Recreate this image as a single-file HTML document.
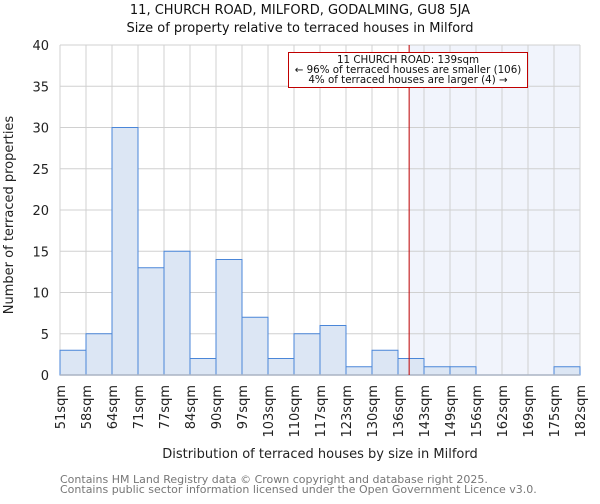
<!DOCTYPE html>
<html><head><meta charset="utf-8"><style>
body{margin:0;background:#fff;font-family:"DejaVu Sans","Liberation Sans",sans-serif;}
</style></head><body>
<svg id="c" width="600" height="500" xmlns="http://www.w3.org/2000/svg" font-family="DejaVu Sans, Liberation Sans, sans-serif"></svg>
<script>
const edges=["51sqm","58sqm","64sqm","71sqm","77sqm","84sqm","90sqm","97sqm","103sqm","110sqm","117sqm","123sqm","130sqm","136sqm","143sqm","149sqm","156sqm","162sqm","169sqm","175sqm","182sqm"];
const edgeVals=[51,58,64,71,77,84,90,97,103,110,117,123,130,136,143,149,156,162,169,175,182];
const counts=[3,5,30,13,15,2,14,7,2,5,6,1,3,2,1,1,0,0,0,1];
const yTicks=[0,5,10,15,20,25,30,35,40];
const marker=139;
const X0=60,X1=580,Y0=375,Y1=45,YMAX=40;
const bw=(X1-X0)/counts.length;
const sx=i=>X0+i*bw;
const sy=v=>Y0-(v/YMAX)*(Y0-Y1);
function sval(v){for(let i=0;i<edgeVals.length-1;i++){if(v<=edgeVals[i+1])return sx(i)+bw*(v-edgeVals[i])/(edgeVals[i+1]-edgeVals[i]);}return X1;}
const svg=document.getElementById('c');const NS='http://www.w3.org/2000/svg';
function el(t,a,txt){const e=document.createElementNS(NS,t);for(const k in a)e.setAttribute(k,a[k]);if(txt!==undefined)e.textContent=txt;svg.appendChild(e);return e;}
const mx=sval(marker);
let e=el('rect',{x:mx,y:Y1,width:X1-mx,height:Y0-Y1,fill:'#f1f4fc'});


for(let i=0;i<edges.length;i++){e=el('line',{x1:sx(i),x2:sx(i),y1:Y1,y2:Y0,stroke:'#d0d0d0','stroke-width':1});

}
yTicks.forEach(t=>{e=el('line',{x1:X0,x2:X1,y1:sy(t),y2:sy(t),stroke:'#d0d0d0','stroke-width':1});


e=el('text',{x:X0-11,y:sy(t)+5,'text-anchor':'end','font-size':13,fill:'#222'},t);

});
counts.forEach((v,i)=>{if(v<=0)return;e=el('rect',{x:sx(i),y:sy(v),width:bw,height:Y0-sy(v),fill:'#dce6f4',stroke:'#4a86d8','stroke-width':1});

});
e=el('line',{x1:X0,x2:X1,y1:Y0,y2:Y0,stroke:'#aab4c4','stroke-width':1.5});


edges.forEach((l,i)=>{const x=sx(i)+5;e=el('text',{x:0,y:0,transform:`translate(${x},385) rotate(-90)`,'text-anchor':'end','font-size':13,fill:'#222'},l);

});
e=el('line',{x1:mx,x2:mx,y1:Y1,y2:Y0,stroke:'#c00000','stroke-width':1});


e=el('rect',{x:288.5,y:52.5,width:239,height:35,fill:'#fff',stroke:'#c00000','stroke-width':1});


[["11 CHURCH ROAD: 139sqm",63],["← 96% of terraced houses are smaller (106)",73],["4% of terraced houses are larger (4) →",83]].forEach(a=>{e=el('text',{x:408,y:a[1],'text-anchor':'middle','font-size':10.3,fill:'#111'},a[0]);

});
e=el('text',{x:300,y:14,'text-anchor':'middle','font-size':13,fill:'#111'},'11, CHURCH ROAD, MILFORD, GODALMING, GU8 5JA');


e=el('text',{x:300,y:32,'text-anchor':'middle','font-size':13,fill:'#111'},'Size of property relative to terraced houses in Milford');


e=el('text',{x:0,y:0,transform:'translate(13,215) rotate(-90)','text-anchor':'middle','font-size':13,fill:'#222'},'Number of terraced properties');


e=el('text',{x:320,y:458,'text-anchor':'middle','font-size':13,fill:'#222'},'Distribution of terraced houses by size in Milford');


e=el('text',{x:60,y:483,'font-size':11,fill:'#777'},'Contains HM Land Registry data © Crown copyright and database right 2025.');


e=el('text',{x:60,y:493,'font-size':11,fill:'#777'},'Contains public sector information licensed under the Open Government Licence v3.0.');


</script>
</body></html>
